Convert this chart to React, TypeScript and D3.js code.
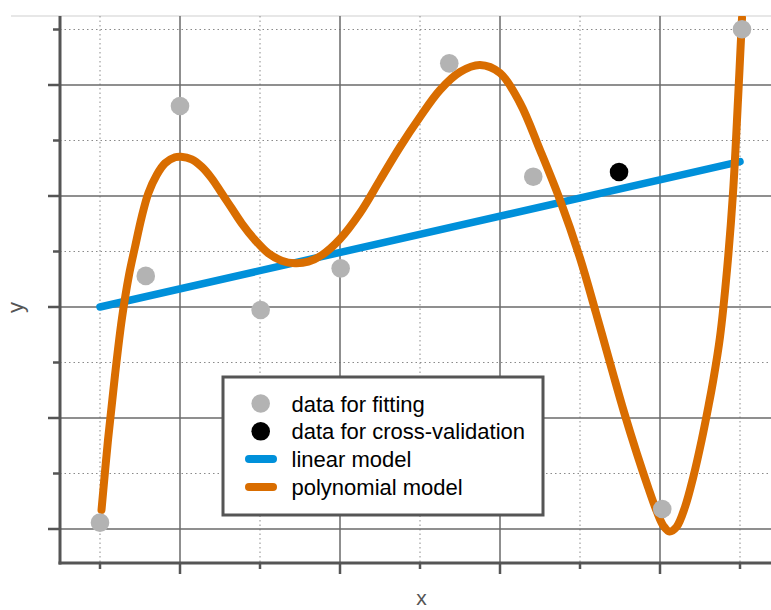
import React from "react";
import * as d3 from "d3";

// Data for fitting (gray points)
const fitX = [0.5, 0.786, 1.0, 1.504, 2.004, 2.683, 3.208, 4.014, 4.5125];
const fitY = [0.057, 2.28, 3.811, 1.973, 2.348, 4.195, 3.174, 0.18, 4.502];
// Data for cross-validation (black point)
const cvX = [3.744];
const cvY = [3.216];
// Linear model
const linX = [0.5, 4.5];
const linY = [2.0, 3.31];
// Polynomial model (sampled from the curve)
const polyX = [
  0.5094, 0.55, 0.5938, 0.6375, 0.6813, 0.7188, 0.7606, 0.8019, 0.8544, 0.9063,
  0.9688, 1.0063, 1.0731, 1.1356, 1.1981, 1.2606, 1.3231, 1.3856, 1.4688, 1.5519,
  1.6356, 1.7188, 1.8019, 1.8875, 2.0, 2.125, 2.25, 2.375, 2.5, 2.625,
  2.75, 2.875, 3.0, 3.125, 3.25, 3.375, 3.5, 3.6, 3.7, 3.775,
  3.8563, 3.925, 3.9813, 4.0219, 4.0594, 4.1031, 4.1563, 4.2081, 4.2606, 4.3019,
  4.3331, 4.375, 4.4188, 4.4563, 4.4875, 4.5125,
];
const polyY = [
  0.1712, 0.8018, 1.3874, 1.9009, 2.2883, 2.5405, 2.8108, 3.0243, 3.1892, 3.2946,
  3.3486, 3.3541, 3.3306, 3.264, 3.1595, 3.0243, 2.8892, 2.7541, 2.6036, 2.4838,
  2.4171, 2.3937, 2.4081, 2.4685, 2.6126, 2.8468, 3.1441, 3.4414, 3.7117, 3.955,
  4.1171, 4.1802, 4.1081, 3.8378, 3.4144, 2.964, 2.4414, 1.9459, 1.4324, 1.0541,
  0.6757, 0.3784, 0.1532, 0.027, -0.0225, 0.018, 0.1982, 0.4685, 0.8018, 1.0991,
  1.3423, 1.7297, 2.3333, 3.027, 3.8649, 4.6036,
];
// Tick positions (no tick labels)
const xMajorTicks = [1, 2, 3, 4];
const xMinorTicks = [0.5, 1.5, 2.5, 3.5, 4.5];
const yMajorTicks = [0, 1, 2, 3, 4];
const yMinorTicks = [0.5, 1.5, 2.5, 3.5, 4.5];

const legendItems = [
  { label: "data for fitting", kind: "dot", color: "#b3b3b3" },
  { label: "data for cross-validation", kind: "dot", color: "#000000" },
  { label: "linear model", kind: "line", color: "#0090da" },
  { label: "polynomial model", kind: "line", color: "#d96d00" },
];

export default function App() {
  const W = 771;
  const H = 610;
  const left = 60;
  const top = 16;
  const bottom = 563;
  const right = W;

  const x = d3.scaleLinear().domain([0.5, 4.5]).range([100, 740]);
  const y = d3.scaleLinear().domain([0, 4]).range([529, 85]);

  const line = d3
    .line<[number, number]>()
    .x((d) => x(d[0]))
    .y((d) => y(d[1]));
  const curve = d3
    .line<[number, number]>()
    .x((d) => x(d[0]))
    .y((d) => y(d[1]))
    .curve(d3.curveCatmullRom.alpha(0.5));

  const linPts: [number, number][] = linX.map((v, i) => [v, linY[i]]);
  const polyPts: [number, number][] = polyX.map((v, i) => [v, polyY[i]]);

  const font = "'Liberation Sans', Arial, Helvetica, sans-serif";
  const axisColor = "#555";
  const majorGrid = "#6a6a6a";
  const minorGrid = "#8a8a8a";

  const lg = { x: 223, y: 377, w: 320, h: 138 };

  return (
    <svg
      width={W}
      height={H}
      style={{ position: "absolute", left: 0, top: 0, background: "#fff" }}
      fontFamily={font}
    >
      <defs>
        <clipPath id="plotClip">
          <rect x={left} y={top} width={right - left} height={bottom - top} />
        </clipPath>
      </defs>
      {/* top frame line */}
      <line x1={11} x2={W} y1={top} y2={top} stroke="#cfcfcf" strokeWidth={1.2} />

      {/* minor grid */}
      {xMinorTicks.map((t) => (
        <line key={"xm" + t} x1={x(t)} x2={x(t)} y1={top} y2={bottom} stroke={minorGrid} strokeWidth={1} strokeDasharray="1.5,3" />
      ))}
      {yMinorTicks.map((t) => (
        <line key={"ym" + t} x1={left} x2={right} y1={y(t)} y2={y(t)} stroke={minorGrid} strokeWidth={1} strokeDasharray="1.5,3" />
      ))}
      {/* major grid */}
      {xMajorTicks.map((t) => (
        <line key={"xM" + t} x1={x(t)} x2={x(t)} y1={top} y2={bottom} stroke={majorGrid} strokeWidth={1.5} />
      ))}
      {yMajorTicks.map((t) => (
        <line key={"yM" + t} x1={left} x2={right} y1={y(t)} y2={y(t)} stroke={majorGrid} strokeWidth={1.5} />
      ))}

      <g clipPath="url(#plotClip)">
        <path d={line(linPts) || ""} fill="none" stroke="#0090da" strokeWidth={7.5} strokeLinecap="round" />
        <path d={curve(polyPts) || ""} fill="none" stroke="#d96d00" strokeWidth={8} strokeLinecap="round" strokeLinejoin="round" />
      </g>

      {fitX.map((v, i) => (
        <circle key={"f" + i} cx={x(v)} cy={y(fitY[i])} r={9.3} fill="#b3b3b3" />
      ))}
      {cvX.map((v, i) => (
        <circle key={"c" + i} cx={x(v)} cy={y(cvY[i])} r={9.3} fill="#000" />
      ))}

      {/* axes */}
      <line x1={left} x2={left} y1={top} y2={bottom + 1.5} stroke={axisColor} strokeWidth={3} />
      <line x1={left - 1.5} x2={right} y1={bottom} y2={bottom} stroke={axisColor} strokeWidth={3} />
      {yMajorTicks.map((t) => (
        <line key={"yt" + t} x1={left - 12} x2={left} y1={y(t)} y2={y(t)} stroke={axisColor} strokeWidth={2.5} />
      ))}
      {yMinorTicks.map((t) => (
        <line key={"ytm" + t} x1={left - 7} x2={left} y1={y(t)} y2={y(t)} stroke={axisColor} strokeWidth={2.5} />
      ))}
      {xMajorTicks.map((t) => (
        <line key={"xt" + t} x1={x(t)} x2={x(t)} y1={bottom} y2={bottom + 11} stroke={axisColor} strokeWidth={2.5} />
      ))}
      {xMinorTicks.map((t) => (
        <line key={"xtm" + t} x1={x(t)} x2={x(t)} y1={bottom} y2={bottom + 6} stroke={axisColor} strokeWidth={2.5} />
      ))}

      {/* axis labels */}
      <text x={421.5} y={605} textAnchor="middle" fontSize={21} fill={axisColor}>
        x
      </text>
      <text transform="translate(23,307.5) rotate(-90)" textAnchor="middle" fontSize={22} fill={axisColor}>
        y
      </text>

      {/* legend */}
      <rect x={lg.x} y={lg.y} width={lg.w} height={lg.h} fill="#fff" stroke={axisColor} strokeWidth={3} />
      {legendItems.map((it, i) => {
        const cy = 403.5 + i * 27.8;
        return (
          <g key={it.label}>
            {it.kind === "dot" ? (
              <circle cx={260.7} cy={cy} r={9.3} fill={it.color} />
            ) : (
              <line x1={249} x2={273} y1={cy} y2={cy} stroke={it.color} strokeWidth={8} strokeLinecap="round" />
            )}
            <text x={291.5} y={cy + 8} fontSize={22} fill="#000">
              {it.label}
            </text>
          </g>
        );
      })}
    </svg>
  );
}
